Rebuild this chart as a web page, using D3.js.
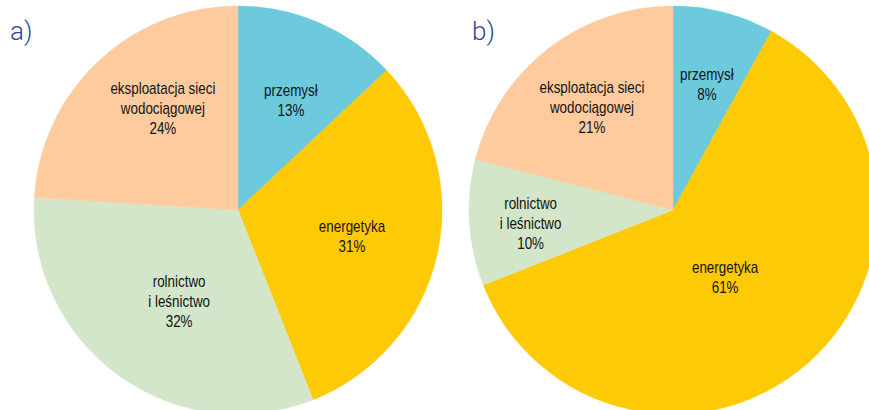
<!DOCTYPE html>
<html>
<head>
<meta charset="utf-8">
<script src="https://cdn.jsdelivr.net/npm/d3@7"></script>
<style>
  html, body { margin: 0; padding: 0; background: #ffffff; }
  svg { display: block; }
</style>
</head>
<body>
<svg id="chart" width="869" height="410"></svg>
<script>
// ---- data ----
const categories = ["przemysł", "energetyka", "rolnictwo\ni leśnictwo", "eksploatacja sieci\nwodociągowej"];
const valuesA = [13, 31, 32, 24];
const valuesB = [8, 61, 10, 21];
const panelLabels = ["a)", "b)"];

// ---- styles / layout ----
const colors = ["#6dcadc", "#fdca05", "#d3e6c9", "#fdcb9e"];
const R = 204;
// label placement: [angle offset from slice middle (deg), radius]
const panels = [
  { cx: 238, cy: 210, values: valuesA, label: panelLabels[0], lx: 10,
    labelPos: [[2.3, 122], [0.5, 117], [-3.3, 109], [6.6, 126]] },
  { cx: 673, cy: 210, values: valuesB, label: panelLabels[1], lx: 472,
    labelPos: [[0.7, 130], [3.6, 85], [-1.6, 143], [-0.4, 131]] }
];

const svg = d3.select("#chart");
const pie = d3.pie().sort(null).value(d => d.value);
const arc = d3.arc().innerRadius(0).outerRadius(R);
const fontStack = "'Liberation Sans', Arial, Helvetica, sans-serif";
const lineH = 20;

// measure to emulate a condensed face
const probe = svg.append("text").attr("font-family", fontStack).attr("font-size", 16).text("eksploatacja sieci");
const probeW = probe.node().getComputedTextLength();
probe.remove();
const sx = probeW > 0 ? 105 / probeW : 0.84;

panels.forEach(p => {
  const data = categories.map((c, i) => ({ name: c, value: p.values[i], idx: i }));
  const arcs = pie(data);
  const g = svg.append("g").attr("transform", `translate(${p.cx},${p.cy})`);

  g.selectAll("path.slice")
    .data(arcs)
    .join("path")
    .attr("class", "slice")
    .attr("d", arc)
    .attr("fill", d => colors[d.data.idx])
    .attr("stroke", d => colors[d.data.idx])
    .attr("stroke-width", 0.5);

  arcs.forEach((a, i) => {
    const [off, lr] = p.labelPos[i];
    const ang = (a.startAngle + a.endAngle) / 2 + off * Math.PI / 180;
    const [x, y] = d3.pointRadial(ang, lr);
    const lines = a.data.name.split("\n").concat([a.data.value + "%"]);
    const y0 = -(lines.length - 1) * lineH / 2;
    const t = g.append("text")
      .attr("transform", `translate(${x},${y}) scale(${sx},1)`)
      .attr("text-anchor", "middle")
      .attr("font-family", fontStack)
      .attr("font-size", 16)
      .attr("fill", "#141414");
    lines.forEach((ln, k) => {
      t.append("tspan")
        .attr("x", 0)
        .attr("y", y0 + k * lineH)
        .attr("dy", "0.35em")
        .text(ln);
    });
  });

  svg.append("text")
    .attr("x", p.lx)
    .attr("y", 40)
    .attr("font-family", "'Roboto', 'Liberation Sans', Arial, sans-serif")
    .attr("font-weight", 300)
    .attr("font-size", 26)
    .attr("fill", "#2d4b95")
    .text(p.label);
});
</script>
</body>
</html>
